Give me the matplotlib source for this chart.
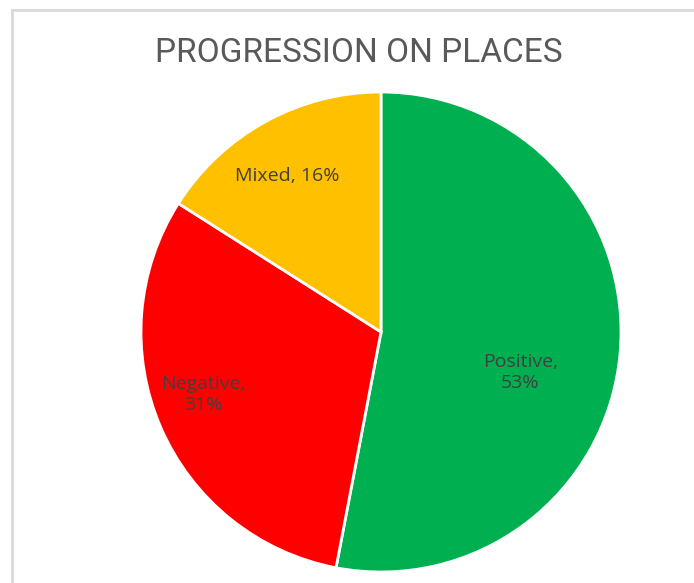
import matplotlib
matplotlib.use("Agg")
import matplotlib.pyplot as plt
from matplotlib.patches import Rectangle

# data
labels = ["Positive", "Negative", "Mixed"]
shares = [53, 31, 16]
colors = ["#00B050", "#FF0000", "#FFC000"]
# label anchor points in pie units (radius = 1)
label_xy = [(0.58, -0.17), (-0.74, -0.26), (-0.39, 0.65)]
label_text = ["Positive,\n53%", "Negative,\n31%", "Mixed, 16%"]

fig = plt.figure(figsize=(6.94, 5.83), dpi=100)

# light frame of the chart area
fig.patches.append(Rectangle((12 / 694, -0.1), 1.2, (583 - 10) / 583 + 0.1,
                             transform=fig.transFigure, fill=False,
                             edgecolor="#D9D9D9", linewidth=2))

ax = fig.add_axes([141 / 694, 11 / 583, 480 / 694, 480 / 583])
ax.pie(shares, colors=colors, startangle=90, counterclock=False,
       wedgeprops={"edgecolor": "white", "linewidth": 2})
ax.set_xlim(-1.0, 1.0)
ax.set_ylim(-1.0, 1.0)
ax.set_aspect("equal")
ax.axis("off")

for (x, y), t in zip(label_xy, label_text):
    ax.text(x, y, t, ha="center", va="center", fontsize=14,
            color="#404040", family="Open Sans", linespacing=1.2)

fig.text(359 / 694, 1 - 53 / 583, "PROGRESSION ON PLACES", ha="center",
         va="center", fontsize=24, color="#595959", family="Roboto")

fig.savefig("out.png", dpi=100)
